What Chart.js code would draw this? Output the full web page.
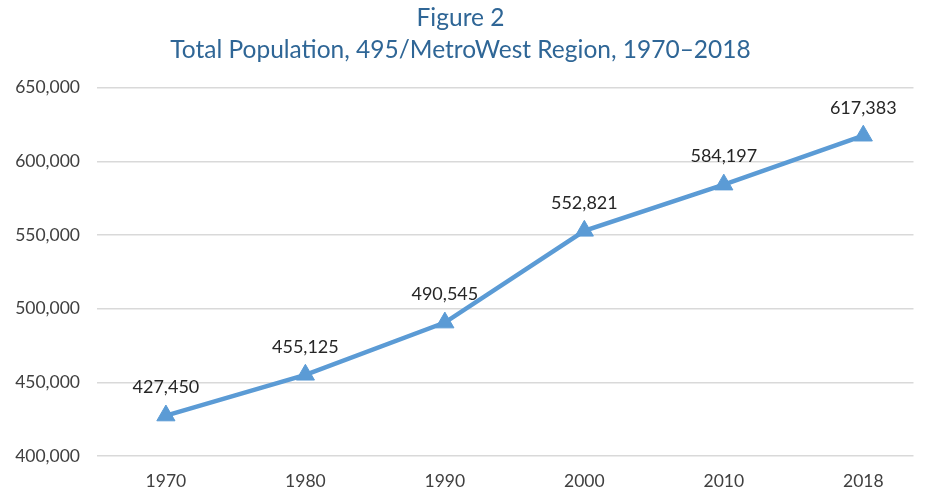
<!DOCTYPE html>
<html>
<head>
<meta charset="utf-8">
<script src="https://cdn.jsdelivr.net/npm/chart.js@4"></script>
<style>
  body { margin: 0; background: #fff; }
  #wrap { width: 925px; height: 494px; }
</style>
</head>
<body>
<div id="wrap"><canvas id="popChart"></canvas></div>
<script>
// Chart data
const years = ['1970', '1980', '1990', '2000', '2010', '2018'];
const population = [427450, 455125, 490545, 552821, 584197, 617383];
const yTicks = [400000, 450000, 500000, 550000, 600000, 650000];

const fmt = n => n.toLocaleString('en-US');

// Draw value labels above each point
const valueLabels = {
    id: 'valueLabels',
    afterDatasetsDraw(chart) {
        const ctx = chart.ctx;
        const meta = chart.getDatasetMeta(0);
        ctx.save();
        ctx.font = '18px Lato';
        ctx.fillStyle = '#262626';
        ctx.textAlign = 'center';
        ctx.textBaseline = 'middle';
        meta.data.forEach((pt, i) => {
            ctx.fillText(fmt(population[i]), pt.x, pt.y - 28);
        });
        ctx.restore();
    }
};

const ctx = document.getElementById('popChart').getContext('2d');
new Chart(ctx, {
    type: 'line',
    data: {
        datasets: [{
            data: population.map((v, i) => ({ x: i, y: v })),
            borderColor: '#5B9BD5',
            backgroundColor: '#5B9BD5',
            borderWidth: 4.5,
            pointStyle: 'triangle',
            pointRadius: 10.5,
            pointHoverRadius: 10.5,
            pointBorderWidth: 1,
            tension: 0
        }]
    },
    options: {
        responsive: true,
        maintainAspectRatio: false,
        animation: false,
        layout: { padding: { left: 0, right: 4, top: 0, bottom: 0 } },
        plugins: {
            legend: { display: false },
            tooltip: { enabled: false },
            title: {
                display: true,
                text: ['Figure 2', 'Total Population, 495/MetroWest Region, 1970–2018'],
                color: '#2F6696',
                font: { family: 'Lato', size: 24.5, weight: 'normal', lineHeight: 1.32 },
                padding: { top: 2, bottom: 21 }
            }
        },
        scales: {
            x: {
                type: 'linear',
                min: -0.494,
                max: 5.36,
                grid: { drawOnChartArea: false, tickLength: 13, tickColor: 'transparent' },
                border: { display: false },
                afterBuildTicks: scale => {
                    scale.ticks = years.map((_, i) => ({ value: i }));
                },
                ticks: {
                    color: '#404040',
                    font: { family: 'Lato', size: 17.5 },
                    padding: 2,
                    maxRotation: 0,
                    callback: v => years[v]
                }
            },
            y: {
                min: 400000,
                max: 650000,
                afterFit: scale => { scale.width = 97; },
                afterBuildTicks: scale => {
                    scale.ticks = yTicks.map(v => ({ value: v }));
                },
                grid: { color: '#d9d9d9', lineWidth: 1.5, tickLength: 14, tickColor: 'transparent' },
                border: { display: false },
                ticks: {
                    color: '#404040',
                    font: { family: 'Lato', size: 17.5 },
                    padding: 3,
                    callback: v => fmt(v)
                }
            }
        }
    },
    plugins: [valueLabels]
});
</script>
</body>
</html>
